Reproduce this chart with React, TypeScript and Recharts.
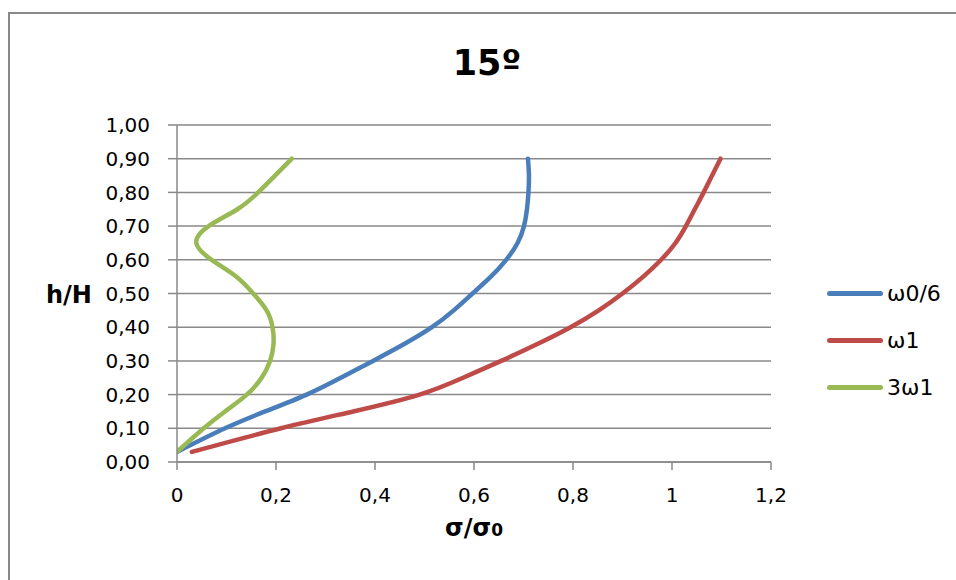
import { LineChart, Line, XAxis, YAxis, CartesianGrid } from 'recharts';

// h/H levels (shared by all three curves)
const hLevels = [0.03, 0.1, 0.15, 0.2, 0.25, 0.3, 0.35, 0.4, 0.45, 0.5, 0.55, 0.6, 0.65, 0.7, 0.75, 0.8, 0.85, 0.9];

// σ/σ0 at each level
const omegaSixth = [0.0, 0.097, 0.178, 0.262, 0.331, 0.396, 0.459, 0.515, 0.559, 0.597, 0.634, 0.665, 0.688, 0.701, 0.707, 0.71, 0.711, 0.709];
const omegaOne = [0.03, 0.21, 0.356, 0.49, 0.578, 0.655, 0.728, 0.795, 0.852, 0.9, 0.942, 0.978, 1.007, 1.028, 1.046, 1.064, 1.081, 1.098];
const omegaThree = [0.0, 0.054, 0.097, 0.141, 0.171, 0.188, 0.195, 0.193, 0.181, 0.154, 0.12, 0.07, 0.039, 0.064, 0.122, 0.164, 0.198, 0.232];

const seriesNames = ['ω0/6', 'ω1', '3ω1'];
const seriesColors = ['#4A7EBB', '#BE4B48', '#98B954'];

const xTicks = [0, 0.2, 0.4, 0.6, 0.8, 1, 1.2];
const yTicks = [0, 0.1, 0.2, 0.3, 0.4, 0.5, 0.6, 0.7, 0.8, 0.9, 1];

const toPoints = (xs: number[]) => xs.map((s, i) => ({ s, h: hLevels[i] }));
const series = [omegaSixth, omegaOne, omegaThree].map(toPoints);

const font = '"DejaVu Sans", sans-serif';
const gray = '#898989';

const fmtY = (v: number) => v.toFixed(2).replace('.', ',');
const fmtX = (v: number) => String(Math.round(v * 10) / 10).replace('.', ',');

export default function App() {
    return (
        <div style={{ position: 'fixed', left: 0, top: 0, width: 956, height: 580, background: '#fff', overflow: 'hidden', fontFamily: font }}>
            <div style={{ position: 'absolute', left: 8, top: 12, width: 1000, height: 700, border: `2px solid ${gray}` }} />

            <div style={{ position: 'absolute', left: 0, width: 974, top: 43, textAlign: 'center', fontWeight: 'bold', fontSize: 35, color: '#000' }}>
                15º
            </div>

            <div style={{ position: 'absolute', left: 46, top: 281, fontWeight: 'bold', fontSize: 24, color: '#000' }}>
                h/H
            </div>

            <div style={{ position: 'absolute', left: 0, width: 948, top: 514, textAlign: 'center', fontWeight: 'bold', fontSize: 24, color: '#000' }}>
                σ/σ<span style={{ fontSize: 17 }}>0</span>
            </div>

            <div style={{ position: 'absolute', left: 0, top: 0 }}>
                <LineChart width={956} height={580} margin={{ top: 125, right: 185, bottom: 88, left: 97 }}>
                    <CartesianGrid vertical={false} stroke={gray} strokeWidth={1.5} horizontalValues={yTicks} />
                    <XAxis
                        type="number"
                        dataKey="s"
                        domain={[0, 1.2]}
                        ticks={xTicks}
                        tickFormatter={fmtX}
                        interval={0}
                        height={30}
                        stroke={gray}
                        strokeWidth={1.5}
                        tickSize={8}
                        tickMargin={18}
                        tick={{ fill: '#000', fontSize: 20, fontFamily: font }}
                        allowDataOverflow
                    />
                    <YAxis
                        type="number"
                        dataKey="h"
                        domain={[0, 1]}
                        ticks={yTicks}
                        tickFormatter={fmtY}
                        interval={0}
                        width={80}
                        stroke={gray}
                        strokeWidth={1.5}
                        tickSize={9}
                        tickMargin={18}
                        tick={{ fill: '#000', fontSize: 20, fontFamily: font }}
                        allowDataOverflow
                    />
                    {series.map((pts, i) => (
                        <Line
                            key={seriesNames[i]}
                            data={pts}
                            dataKey="h"
                            name={seriesNames[i]}
                            type="natural"
                            stroke={seriesColors[i]}
                            strokeWidth={4.5}
                            strokeLinecap="round"
                            dot={false}
                            activeDot={false}
                            isAnimationActive={false}
                        />
                    ))}
                </LineChart>
            </div>

            {seriesNames.map((name, i) => (
                <div key={name} style={{ position: 'absolute', left: 827, top: 280 + i * 47, height: 26, display: 'flex', alignItems: 'center' }}>
                    <div style={{ width: 56, height: 5, borderRadius: 3, background: seriesColors[i], marginRight: 4 }} />
                    <span style={{ fontSize: 22, color: '#000' }}>{name}</span>
                </div>
            ))}
        </div>
    );
}
